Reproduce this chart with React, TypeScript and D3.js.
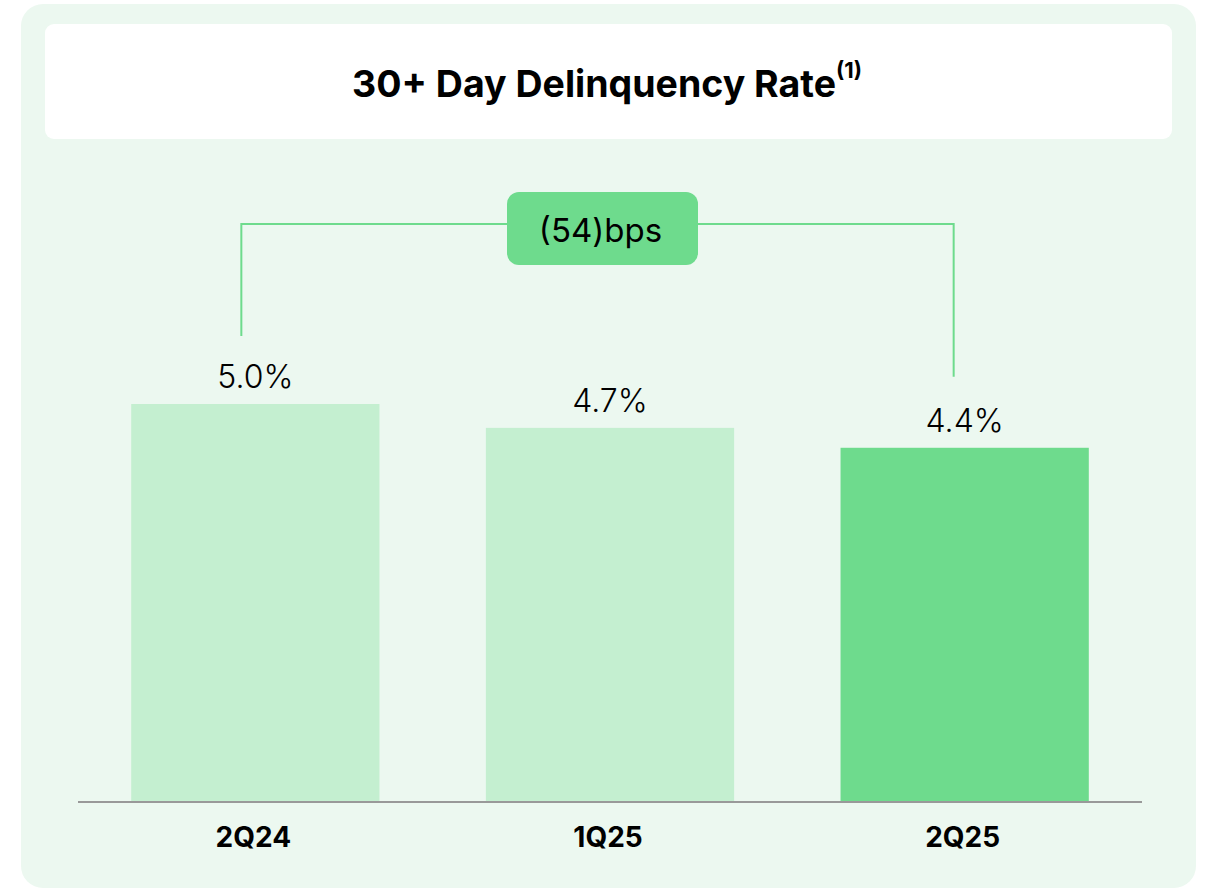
import React from "react";
import * as d3 from "d3";

const categories = ["2Q24", "1Q25", "2Q25"];
const values = [5.0, 4.7, 4.45];
const valueLabels = ["5.0%", "4.7%", "4.4%"];
const barColors = ["#C4EFD0", "#C4EFD0", "#6EDB8D"];
const title = "30+ Day Delinquency Rate";
const titleSup = "(1)";
const changeLabel = "(54)bps";

export default function App() {
  const W = 1205, H = 889;
  const baseY = 802;
  const x = d3.scaleBand<string>().domain(categories).range([78, 1142]).paddingInner(0.3).paddingOuter(0.15);
  const y = d3.scaleLinear().domain([0, 5.0]).range([baseY, 404]);
  const font = "Inter, 'Noto Sans', sans-serif";
  const cx = (i: number) => (x(categories[i]) as number) + x.bandwidth() / 2;
  const leftX = cx(0) - 14;
  const rightX = cx(2) - 11;
  const bracketY = 224;
  const leftBottom = y(values[0]) - 68;
  const rightBottom = y(values[2]) - 71;
  const pillW = 191, pillH = 73, pillCx = 602.5, pillY = 192;
  return (
    <svg width={W} height={H} style={{ position: "absolute", left: 0, top: 0 }}>
      <rect x={21} y={4} width={1175} height={884} rx={22} fill="#ECF8F0" />
      <rect x={45} y={24} width={1127} height={115} rx={9} fill="#FFFFFF" />
      <text x={352} y={97} textAnchor="start" fontFamily={font} fontWeight={700} fontSize={37.5} fill="#000">
        {title}
        <tspan dy={-19} fontSize={22}>{titleSup}</tspan>
      </text>
      <path
        d={`M${leftX},${leftBottom} V${bracketY} H${rightX} V${rightBottom}`}
        fill="none" stroke="#6EDB8D" strokeWidth={2}
      />
      <rect x={pillCx - pillW / 2} y={pillY} width={pillW} height={pillH} rx={12} fill="#6EDB8D" />
      <text x={pillCx - 2} y={242} textAnchor="middle" fontFamily={font} fontWeight={400} fontSize={33} fill="#000">{changeLabel}</text>
      {categories.map((c, i) => (
        <g key={c}>
          <rect x={x(c)} y={y(values[i])} width={x.bandwidth()} height={baseY - y(values[i])} fill={barColors[i]} />
          <text x={cx(i)} y={y(values[i]) - 16} textAnchor="middle" fontFamily={font} fontWeight={300} fontSize={32} fill="#000">{valueLabels[i]}</text>
          <text x={cx(i) - 2} y={847} textAnchor="middle" fontFamily={font} fontWeight={700} fontSize={28} fill="#000">{c}</text>
        </g>
      ))}
      <line x1={78} x2={1142} y1={baseY} y2={baseY} stroke="#999" strokeWidth={2} />
    </svg>
  );
}
